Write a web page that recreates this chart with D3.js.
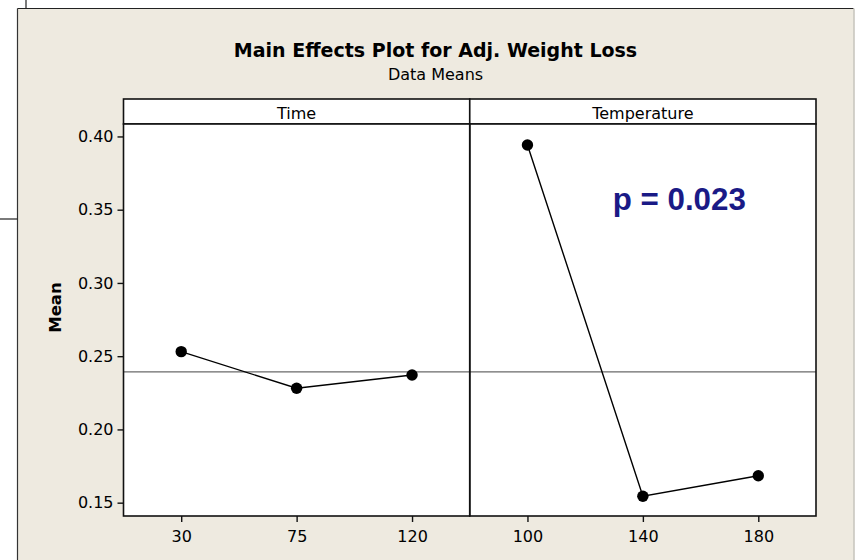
<!DOCTYPE html>
<html>
<head>
<meta charset="utf-8">
<script src="https://cdn.jsdelivr.net/npm/d3@7"></script>
<style>
  html, body { margin: 0; padding: 0; background: #ffffff; }
  svg { display: block; }
</style>
</head>
<body>
<svg id="chart" width="855" height="560"></svg>
<script>
// ---- Data ----
const factors = ["Time", "Temperature"];
const timeLevels = ["30", "75", "120"];
const timeMeans = [0.2531, 0.2281, 0.2372];
const tempLevels = ["100", "140", "180"];
const tempMeans = [0.3942, 0.1544, 0.1684];
const grandMean = 0.2393;
const yTicks = [0.15, 0.20, 0.25, 0.30, 0.35, 0.40];
const titleText = "Main Effects Plot for Adj. Weight Loss";
const subtitleText = "Data Means";
const yLabel = "Mean";
const annotation = "p = 0.023";

const panels = [
  { name: factors[0], levels: timeLevels, means: timeMeans },
  { name: factors[1], levels: tempLevels, means: tempMeans }
];

// ---- Layout ----
const svg = d3.select("#chart");
const W = 855, H = 560;
const bgL = 17.5, bgT = 8.5, bgR = 853.5;
const plotL = 123.5, plotR = 816, stripT = 99, plotT = 124, plotB = 516;
const panelW = (plotR - plotL) / panels.length;

const sans = "'DejaVu Sans', Verdana, sans-serif";

// outer decorations
svg.append("rect").attr("x", 0).attr("y", 0).attr("width", W).attr("height", H).attr("fill", "#ffffff");
svg.append("rect").attr("x", bgL).attr("y", bgT).attr("width", bgR - bgL).attr("height", H - bgT + 2)
  .attr("fill", "#EEEAE0");
svg.append("line").attr("x1", bgL).attr("x2", bgR).attr("y1", bgT).attr("y2", bgT)
  .attr("stroke", "#222").attr("stroke-width", 1.2);
svg.append("line").attr("x1", bgL).attr("x2", bgL).attr("y1", bgT).attr("y2", H)
  .attr("stroke", "#333").attr("stroke-width", 1.2);
svg.append("line").attr("x1", bgR + 0.5).attr("x2", bgR + 0.5).attr("y1", bgT).attr("y2", H)
  .attr("stroke", "#b8b4aa").attr("stroke-width", 1.2);
svg.append("line").attr("x1", 26).attr("x2", 26).attr("y1", 0).attr("y2", bgT)
  .attr("stroke", "#222").attr("stroke-width", 1.2);
svg.append("line").attr("x1", 0).attr("x2", bgL).attr("y1", 219).attr("y2", 219)
  .attr("stroke", "#222").attr("stroke-width", 1.2);

// titles
const cx = (bgL + bgR) / 2;
svg.append("text").attr("x", cx).attr("y", 57).attr("text-anchor", "middle")
  .attr("font-family", sans).attr("font-weight", "bold").attr("font-size", 19)
  .attr("fill", "#000").text(titleText);
svg.append("text").attr("x", cx).attr("y", 80).attr("text-anchor", "middle")
  .attr("font-family", sans).attr("font-size", 16)
  .attr("fill", "#000").text(subtitleText);

// scales
const y = d3.scaleLinear().domain([0.1409, 0.4085]).range([plotB, plotT]);

// panels
panels.forEach((p, i) => {
  const x0 = plotL + i * panelW, x1 = x0 + panelW;
  const g = svg.append("g");
  // strip
  g.append("rect").attr("x", x0).attr("y", stripT).attr("width", panelW).attr("height", plotT - stripT)
    .attr("fill", "#ffffff").attr("stroke", "#111").attr("stroke-width", 1.6);
  g.append("text").attr("x", (x0 + x1) / 2).attr("y", 119).attr("text-anchor", "middle")
    .attr("font-family", sans).attr("font-size", 16).attr("fill", "#000").text(p.name);
  // plot area
  g.append("rect").attr("x", x0).attr("y", plotT).attr("width", panelW).attr("height", plotB - plotT)
    .attr("fill", "#ffffff");
  p.x = d3.scalePoint().domain(p.levels).range([x0, x1]).padding(0.5);
  p.x0 = x0; p.x1 = x1;
});

// grand mean reference line
svg.append("line").attr("x1", plotL).attr("x2", plotR)
  .attr("y1", y(grandMean)).attr("y2", y(grandMean))
  .attr("stroke", "#6a6a6a").attr("stroke-width", 1.3);

panels.forEach((p, i) => {
  const g = svg.append("g");
  const pts = p.levels.map((l, k) => [p.x(l), y(p.means[k])]);
  g.append("path").attr("d", d3.line()(pts)).attr("fill", "none")
    .attr("stroke", "#000").attr("stroke-width", 1.4);
  g.selectAll("circle").data(pts).join("circle")
    .attr("cx", d => d[0]).attr("cy", d => d[1]).attr("r", 5.7).attr("fill", "#000");
  // frame
  g.append("rect").attr("x", p.x0).attr("y", plotT).attr("width", panelW).attr("height", plotB - plotT)
    .attr("fill", "none").attr("stroke", "#111").attr("stroke-width", 1.6);
  // x axis
  const ax = svg.append("g").attr("transform", `translate(0,${plotB})`)
    .call(d3.axisBottom(p.x).tickSize(6).tickPadding(9));
  ax.select(".domain").remove();
  ax.selectAll("line").attr("stroke", "#111").attr("stroke-width", 1.4);
  ax.selectAll("text").attr("font-family", sans).attr("font-size", 16).attr("fill", "#000");
});

// y axis
const ay = svg.append("g").attr("transform", `translate(${plotL},0)`)
  .call(d3.axisLeft(y).tickValues(yTicks).tickFormat(d3.format(".2f")).tickSize(6).tickPadding(4));
ay.select(".domain").remove();
ay.selectAll("line").attr("stroke", "#111").attr("stroke-width", 1.4);
ay.selectAll("text").attr("font-family", sans).attr("font-size", 16).attr("fill", "#000");

// y label
svg.append("text").attr("transform", "translate(61,307.5) rotate(-90)")
  .attr("text-anchor", "middle").attr("font-family", sans).attr("font-weight", "bold")
  .attr("font-size", 16.5).attr("fill", "#000").text(yLabel);

// annotation
svg.append("text").attr("x", 612.7).attr("y", 210)
  .attr("font-family", "'Liberation Sans', Arial, sans-serif").attr("font-weight", "bold")
  .attr("font-size", 31.3).attr("fill", "#1a1a86").text(annotation);
</script>
</body>
</html>
